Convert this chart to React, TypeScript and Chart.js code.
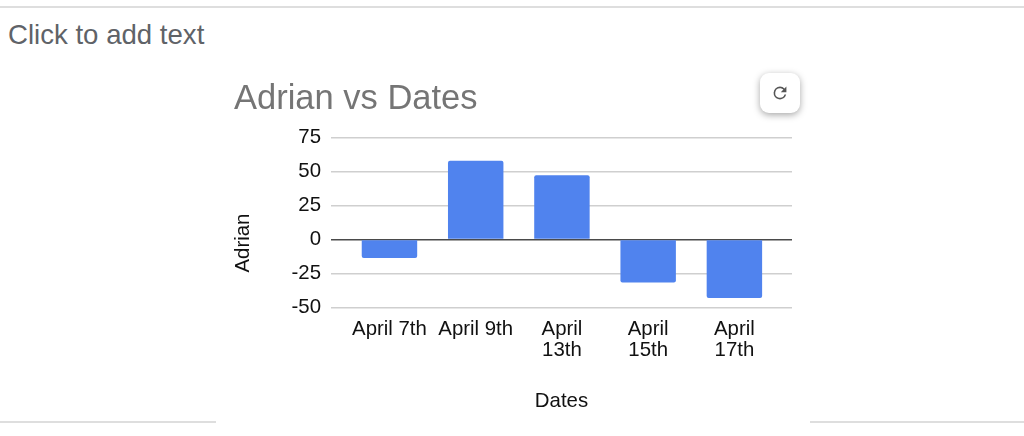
import React, { useEffect, useRef } from "react";
import { Chart, registerables } from "chart.js";

Chart.register(...registerables);

const categories: string[][] = [
  ["April 7th"],
  ["April 9th"],
  ["April", "13th"],
  ["April", "15th"],
  ["April", "17th"],
];
const positions = [0, 1, 2, 3, 4];
const adrian = [-13.6, 57.9, 47.3, -31.6, -43];
const yTicks = [-50, -25, 0, 25, 50, 75];
const yTitle = "Adrian";

const FONT = '"Liberation Sans", Arial, sans-serif';
const AXIS_SIZE = 20.4;

const yTitlePlugin = {
  id: "yTitle",
  afterDraw(chart: any) {
    const { ctx, scales } = chart;
    ctx.save();
    ctx.translate(scales.y.left + 9.5, scales.y.getPixelForValue(0) + 3.5);
    ctx.rotate(-Math.PI / 2);
    ctx.textAlign = "center";
    ctx.textBaseline = "middle";
    ctx.fillStyle = "#111111";
    ctx.font = `${AXIS_SIZE}px ${FONT}`;
    ctx.fillText(yTitle, 0, 0);
    ctx.restore();
  },
};

export default function App() {
  const ref = useRef<HTMLCanvasElement>(null);

  useEffect(() => {
    const chart = new Chart(ref.current!, {
      type: "bar",
      plugins: [yTitlePlugin],
      data: {
        datasets: [
          {
            label: "Adrian",
            data: positions.map((x, i) => ({ x, y: adrian[i] })),
            backgroundColor: "#5083ee",
            borderRadius: 2,
            borderSkipped: "start",
            barPercentage: 0.643,
            categoryPercentage: 1,
          },
        ],
      },
      options: {
        responsive: false,
        animation: false,
        layout: { padding: { left: 18, right: 18, top: 0, bottom: 7.6 } },
        plugins: {
          legend: { display: false },
          tooltip: { enabled: false },
          title: {
            display: true,
            text: "Adrian vs Dates",
            align: "start",
            color: "#757575",
            font: { family: FONT, size: 34.5, weight: "normal" },
            padding: { top: 9, bottom: 17.2 },
          },
        },
        scales: {
          x: {
            type: "linear",
            min: -0.678,
            max: 4.668,
            offset: false,
            grid: { display: false },
            border: { display: false },
            afterFit: (s: any) => {
              s.height = 105.9;
            },
            afterBuildTicks: (s: any) => {
              s.ticks = positions.map((value) => ({ value }));
            },
            ticks: {
              autoSkip: false,
              maxRotation: 0,
              minRotation: 0,
              color: "#111111",
              padding: 4,
              font: { family: FONT, size: AXIS_SIZE, lineHeight: 1.0 },
              callback: (v: any) => categories[Number(v)],
            },
            title: {
              display: true,
              text: "Dates",
              color: "#111111",
              font: { family: FONT, size: AXIS_SIZE },
              padding: 0,
            },
          },
          y: {
            min: -50,
            max: 75,
            afterBuildTicks: (s: any) => {
              s.ticks = yTicks.map((value) => ({ value }));
            },
            afterFit: (s: any) => {
              s.width = 97;
            },
            grid: {
              drawTicks: false,
              color: (c: any) => (c.tick && c.tick.value === 0 ? "#4a4a4a" : "#cfcfcf"),
              lineWidth: 1.5,
            },
            border: { display: false },
            ticks: {
              color: "#111111",
              padding: 10,
              font: { family: FONT, size: AXIS_SIZE },
            },
          },
        },
      },
    } as any);
    return () => chart.destroy();
  }, []);

  return (
    <div
      style={{
        position: "absolute",
        left: 0,
        top: 0,
        width: 1024,
        height: 436,
        overflow: "hidden",
        background: "#ffffff",
        fontFamily: FONT,
      }}
    >
      <div style={{ position: "absolute", left: 0, top: 6, width: 1024, height: 1.5, background: "#dedede" }} />
      <div style={{ position: "absolute", left: 0, top: 421, width: 216, height: 1.5, background: "#dedede" }} />
      <div style={{ position: "absolute", left: 810, top: 421, width: 214, height: 1.5, background: "#dedede" }} />
      <div style={{ position: "absolute", left: 8, top: 20, fontSize: 27.6, lineHeight: "30px", color: "#5f6368" }}>
        Click to add text
      </div>
      <canvas
        ref={ref}
        width={594}
        height={351}
        style={{ position: "absolute", left: 216, top: 70, width: 594, height: 351 }}
      />
      <div
        style={{
          position: "absolute",
          left: 760,
          top: 73,
          width: 40,
          height: 40,
          borderRadius: 9,
          background: "#ffffff",
          boxShadow: "0 2px 7px rgba(0,0,0,0.35)",
        }}
      >
        <svg width="40" height="40" viewBox="0 0 40 40" style={{ position: "absolute", left: 0, top: 0 }}>
          <path
            transform="translate(10.4 10.4) scale(0.8)"
            fill="#555555"
            d="M17.65 6.35A7.96 7.96 0 0 0 12 4a8 8 0 1 0 7.74 10h-2.08A6 6 0 1 1 12 6c1.66 0 3.14.69 4.22 1.78L13 11h7V4l-2.35 2.35z"
          />
        </svg>
      </div>
    </div>
  );
}
